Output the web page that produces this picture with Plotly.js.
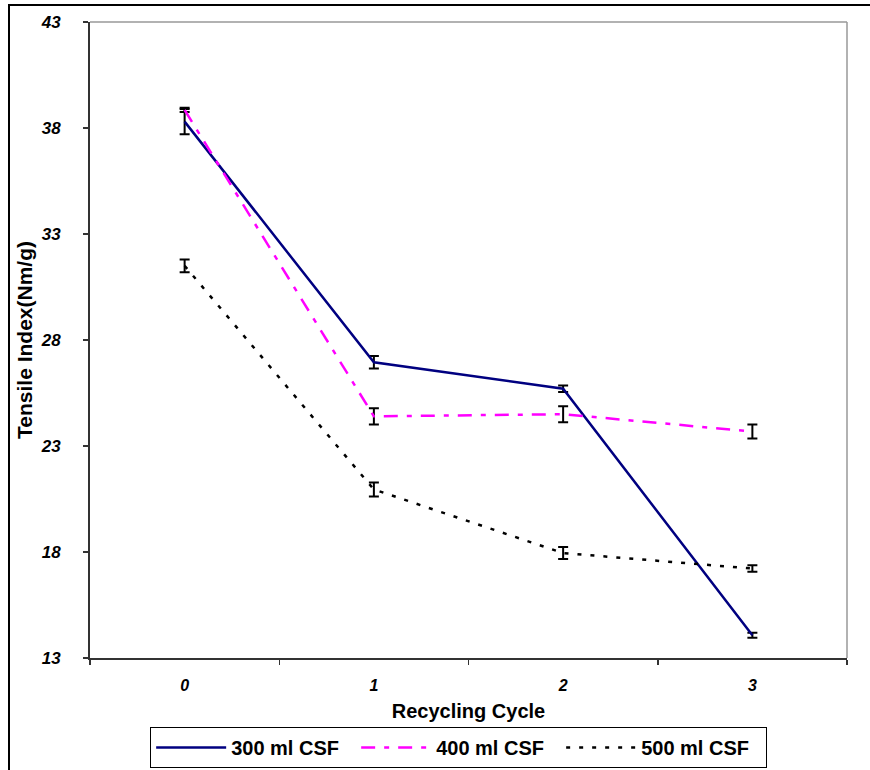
<!DOCTYPE html>
<html>
<head>
<meta charset="utf-8">
<script src="https://cdn.plot.ly/plotly-3.0.1.min.js"></script>
<style>
  html, body { margin: 0; padding: 0; background: #fff; overflow: hidden; }
  #frame { position: absolute; left: 8px; top: 4px; width: 900px; height: 820px; border: 2px solid #000; z-index: 0; }
  #chart { position: absolute; left: 0; top: 0; width: 870px; height: 770px; z-index: 1; }
</style>
</head>
<body>
<div id="frame"></div>
<div id="chart"></div>
<script>
const cycles = ['0', '1', '2', '3'];
const seriesNames = ['300 ml CSF', '400 ml CSF', '500 ml CSF'];
const csf300 = [38.3, 26.95, 25.7, 14.07];
const csf300Err = [0.6, 0.3, 0.15, 0.12];
const csf400 = [38.85, 24.4, 24.5, 23.68];
const csf400Err = [0.1, 0.38, 0.38, 0.33];
const csf500 = [31.5, 20.95, 17.95, 17.22];
const csf500Err = [0.3, 0.33, 0.28, 0.15];
const yTicks = [13, 18, 23, 28, 33, 38, 43];

const fontFam = '"Liberation Sans", Arial, sans-serif';

function errBar(arr) {
  return { type: 'data', array: arr, visible: true, color: '#000', thickness: 2, width: 5 };
}

const traces = [
  { x: cycles, y: csf300, name: seriesNames[0], type: 'scatter', mode: 'lines',
    line: { color: '#000080', width: 2.5 }, error_y: errBar(csf300Err) },
  { x: cycles, y: csf400, name: seriesNames[1], type: 'scatter', mode: 'lines',
    line: { color: '#FF00FF', width: 2.5, dash: '14px,9px,5px,9px' }, error_y: errBar(csf400Err) },
  { x: cycles, y: csf500, name: seriesNames[2], type: 'scatter', mode: 'lines',
    line: { color: '#000000', width: 2.5, dash: '4px,9px' }, error_y: errBar(csf500Err) }
];

const layout = {
  width: 870, height: 770,
  margin: { l: 90, r: 23, t: 22, b: 112, autoexpand: false },
  paper_bgcolor: 'rgba(0,0,0,0)',
  plot_bgcolor: 'rgba(0,0,0,0)',
  font: { family: fontFam, color: '#000' },
  showlegend: true,
  xaxis: {
    type: 'category',
    categoryorder: 'array', categoryarray: cycles,
    range: [-0.5, 3.5],
    tickson: 'boundaries',
    ticks: 'outside', ticklen: 5, tickwidth: 1.5, tickcolor: '#333',
    ticklabelstandoff: 12,
    showline: true, linecolor: '#333', linewidth: 2,
    showgrid: false, zeroline: false, automargin: false,
    tickfont: { family: fontFam, size: 16, weight: 'bold', style: 'italic', color: '#000' },
    title: { text: 'Recycling Cycle', font: { family: fontFam, size: 20, weight: 'bold', color: '#000' }, standoff: 11 }
  },
  yaxis: {
    range: [13, 43],
    tickmode: 'array', tickvals: yTicks, ticktext: yTicks.map(String),
    ticks: 'outside', ticklen: 5, tickwidth: 1.5, tickcolor: '#333',
    ticklabelstandoff: 19,
    showline: true, linecolor: '#333', linewidth: 2,
    showgrid: false, zeroline: false, automargin: false,
    tickfont: { family: fontFam, size: 17, weight: 'bold', style: 'italic', color: '#000' },
    title: { text: 'Tensile Index(Nm/g)', font: { family: fontFam, size: 21, weight: 'bold', color: '#000' }, standoff: 2 }
  },
  legend: {
    orientation: 'h',
    x: 0.487, xanchor: 'center',
    y: -0.1085, yanchor: 'top',
    bordercolor: '#000', borderwidth: 1,
    bgcolor: '#fff',
    font: { family: fontFam, size: 20, weight: 'bold', color: '#000' },
    entrywidth: 120, entrywidthmode: 'pixels',
    itemwidth: 70
  },
  shapes: [
    { type: 'line', xref: 'paper', yref: 'paper', x0: 0, x1: 1, y0: 1, y1: 1, line: { color: '#999', width: 1.5 } },
    { type: 'line', xref: 'paper', yref: 'paper', x0: 1, x1: 1, y0: 0, y1: 1, line: { color: '#999', width: 1.5 } }
  ]
};

Plotly.newPlot('chart', traces, layout, { displayModeBar: false, staticPlot: true });
</script>
</body>
</html>
